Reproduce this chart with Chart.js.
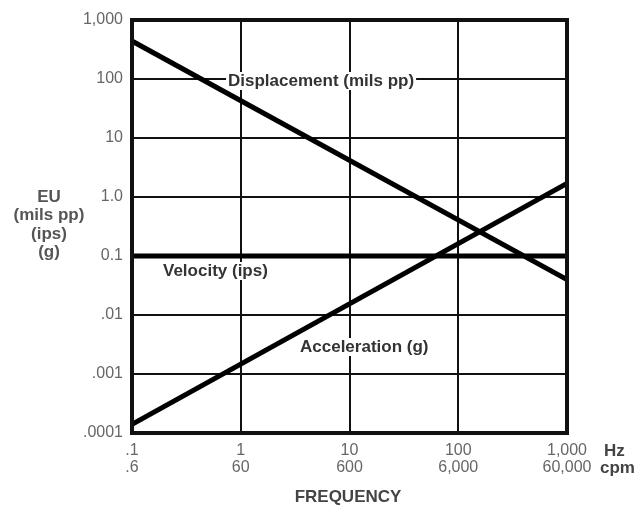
<!DOCTYPE html>
<html>
<head>
<meta charset="utf-8">
<script src="https://cdn.jsdelivr.net/npm/chart.js@4"></script>
<style>
  html, body { margin: 0; padding: 0; background: #fff; }
  #wrap { width: 641px; height: 507px; }
</style>
</head>
<body>
<div id="wrap"><canvas id="chart" width="641" height="507"></canvas></div>
<script>
// --- data ---
const freqHz = [0.1, 1000];
const displacement = [440, 0.04];
const velocity = [0.1, 0.1];
const acceleration = [0.00014, 1.7];

const xTickValues = [0.1, 1, 10, 100, 1000];
const xTickHz = ['.1', '1', '10', '100', '1,000'];
const xTickCpm = ['.6', '60', '600', '6,000', '60,000'];
const yTickValues = [0.0001, 0.001, 0.01, 0.1, 1, 10, 100, 1000];
const yTickLabels = ['.0001', '.001', '.01', '0.1', '1.0', '10', '100', '1,000'];

const FONT = '"Liberation Sans", Arial, sans-serif';

const toPoints = (ys) => freqHz.map((x, i) => ({ x: x, y: ys[i] }));

// text labels, frame, axis captions
const overlay = {
    id: 'overlay',
    afterDatasetsDraw(chart) {
        const { ctx, chartArea: a } = chart;
        ctx.save();
        // heavy frame
        ctx.strokeStyle = '#111';
        ctx.lineWidth = 4;
        ctx.strokeRect(a.left, a.top, a.right - a.left, a.bottom - a.top);

        // curve labels with white backing
        const labels = [
            { text: 'Displacement (mils pp)', x: 228, y: 81 },
            { text: 'Velocity (ips)', x: 163, y: 271 },
            { text: 'Acceleration (g)', x: 300, y: 347 }
        ];
        ctx.font = 'bold 17px ' + FONT;
        ctx.textBaseline = 'middle';
        ctx.textAlign = 'left';
        labels.forEach(l => {
            const w = ctx.measureText(l.text).width;
            ctx.fillStyle = '#fff';
            ctx.fillRect(l.x - 2, l.y - 9, w + 4, 18);
            ctx.fillStyle = '#333';
            ctx.fillText(l.text, l.x, l.y);
        });

        // y axis caption
        ctx.fillStyle = '#555';
        ctx.textAlign = 'center';
        ['EU', '(mils pp)', '(ips)', '(g)'].forEach((t, i) => {
            ctx.fillText(t, 49, 197 + i * 18.5);
        });

        // x axis caption and units
        ctx.fillStyle = '#444';
        ctx.fillText('FREQUENCY', 348, 497);
        ctx.textAlign = 'left';
        ctx.fillText('Hz', 604, 451);
        ctx.fillText('cpm', 600, 468);
        ctx.restore();
    }
};

new Chart(document.getElementById('chart'), {
    type: 'scatter',
    data: {
        datasets: [
            { label: 'Displacement (mils pp)', data: toPoints(displacement) },
            { label: 'Velocity (ips)', data: toPoints(velocity) },
            { label: 'Acceleration (g)', data: toPoints(acceleration) }
        ].map(d => Object.assign(d, {
            showLine: true,
            borderColor: '#000',
            borderWidth: 5,
            pointRadius: 0,
            borderCapStyle: 'butt'
        }))
    },
    options: {
        responsive: false,
        animation: false,
        layout: { padding: { left: 0, right: 74, top: 20, bottom: 0 } },
        plugins: { legend: { display: false }, tooltip: { enabled: false } },
        scales: {
            x: {
                type: 'logarithmic',
                min: 0.1,
                max: 1000,
                afterBuildTicks: (s) => { s.ticks = xTickValues.map(v => ({ value: v })); },
                afterFit: (s) => { s.height = 74; },
                grid: { color: '#111', lineWidth: 2, drawTicks: false },
                border: { display: false },
                ticks: {
                    padding: 9,
                    color: '#666',
                    font: { family: FONT, size: 16, lineHeight: 1.06 },
                    maxRotation: 0,
                    autoSkip: false,
                    callback: (v) => {
                        const i = xTickValues.indexOf(v);
                        return i < 0 ? '' : [xTickHz[i], xTickCpm[i]];
                    }
                }
            },
            y: {
                type: 'logarithmic',
                min: 0.0001,
                max: 1000,
                afterBuildTicks: (s) => { s.ticks = yTickValues.map(v => ({ value: v })); },
                afterFit: (s) => { s.width = 132; },
                grid: { color: '#111', lineWidth: 2, drawTicks: false },
                border: { display: false },
                ticks: {
                    padding: 9,
                    color: '#666',
                    font: { family: FONT, size: 16 },
                    autoSkip: false,
                    callback: (v) => {
                        const i = yTickValues.indexOf(v);
                        return i < 0 ? '' : yTickLabels[i];
                    }
                }
            }
        }
    },
    plugins: [overlay]
});
</script>
</body>
</html>
